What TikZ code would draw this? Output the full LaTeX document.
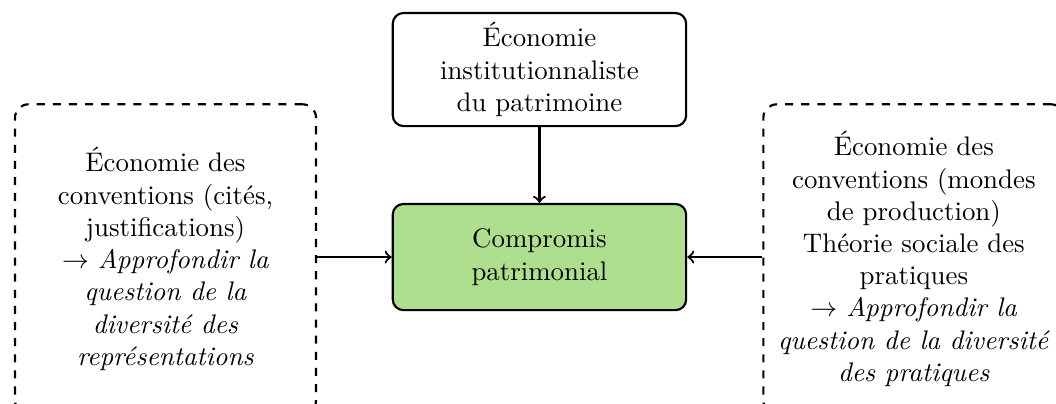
\documentclass[tikz,border=0pt]{standalone}
\usepackage{xcolor}
\definecolor{compromis}{HTML}{ADDF8F}
\usepackage{tikz}
\usetikzlibrary{positioning}
\begin{document}
\begin{tikzpicture}[
  box/.style={draw, thick, rounded corners=4pt, minimum width=3.84cm, align=center},
  greenbox/.style={box, fill=compromis, minimum height=1.39cm},
  sidebox/.style={draw, thick, dashed, rounded corners=5pt, minimum width=3.94cm, minimum height=4.05cm, align=center},
  arr/.style={->, thick}
]
  \useasboundingbox (0,0) rectangle (13.82,-5.275);
  \node[box, minimum height=1.48cm] (eip) at (7.06,-0.91) {Économie\\institutionnaliste\\du patrimoine};
  \node[greenbox] (compromis) at (7.06,-3.364) {Compromis\\patrimonial};
  \node[sidebox] (cites) at (2.166,-3.39) {Économie des\\conventions (cités,\\justifications)\\$\rightarrow$ \textit{Approfondir la}\\\textit{question de la}\\\textit{diversité des}\\\textit{représentations}};
  \node[sidebox] (mondes) at (11.96,-3.39) {Économie des\\conventions (mondes\\de production)\\Théorie sociale des\\pratiques\\$\rightarrow$ \textit{Approfondir la}\\\textit{question de la diversité}\\\textit{des pratiques}};

  \draw[arr] (eip) -- (compromis);
  \draw[arr] (cites.east |- compromis) -- (compromis);
  \draw[arr] (mondes.west |- compromis) -- (compromis);
\end{tikzpicture}
\end{document}
